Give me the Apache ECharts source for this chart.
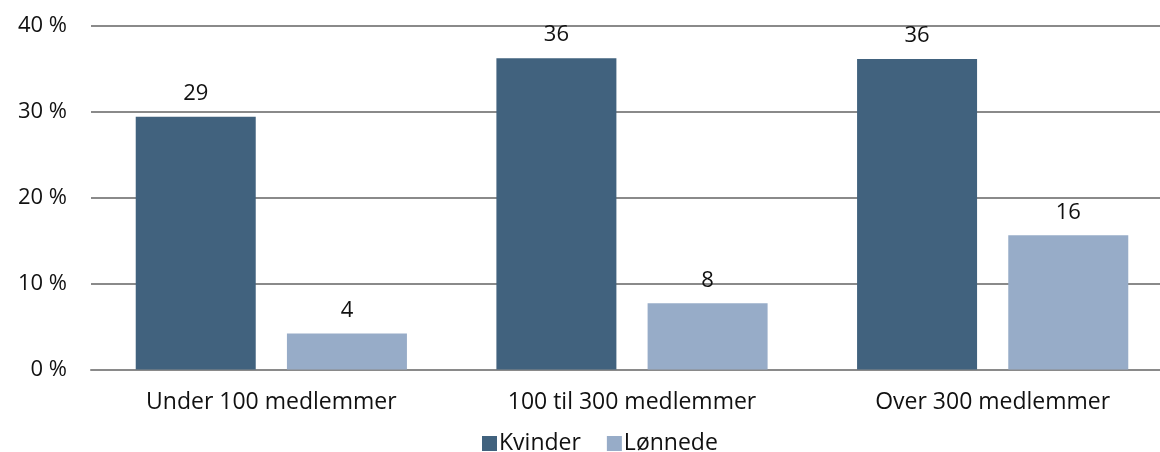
<!DOCTYPE html>
<html><head><meta charset="utf-8">
<script src="https://cdn.jsdelivr.net/npm/echarts@6/dist/echarts.min.js"></script>
<style>html,body{margin:0;padding:0;background:#fff}#c{width:1160px;height:452px}</style>
</head><body><div id="c"></div>
<script>
const categories = ["Under 100 medlemmer", "100 til 300 medlemmer", "Over 300 medlemmer"];
const kvinder = [29.4, 36.2, 36.1];
const lonnede = [4.2, 7.7, 15.6];
const yTicks = [0, 10, 20, 30, 40];
const seriesNames = ["Kvinder", "Lønnede"];

const font = "'Open Sans', Lato, sans-serif";
const chart = echarts.init(document.getElementById('c'));
chart.setOption({
  animation: false,
  grid: {left: 91, right: -13, top: 25.5, bottom: 82.5, outerBoundsMode: 'none', containLabel: false},
  legend: {
    bottom: -8, left: 477, itemWidth: 15, itemHeight: 15, itemGap: 26,
    icon: 'rect',
    textStyle: {fontFamily: font, fontSize: 23, color: '#111', padding: [0,0,0,-3]},
    data: seriesNames
  },
  xAxis: {
    type: 'category', data: categories,
    axisLine: {lineStyle: {color: '#8a8a8a', width: 2}},
    axisTick: {show: false},
    axisLabel: {fontFamily: font, fontSize: 23, color: '#111', margin: 21}
  },
  yAxis: {
    type: 'value', min: yTicks[0], max: yTicks[yTicks.length-1], interval: 10,
    splitLine: {lineStyle: {color: '#8a8a8a', width: 2}},
    axisLine: {show: false}, axisTick: {show: false},
    axisLabel: {fontFamily: font, fontSize: 22, color: '#111', margin: 24, formatter: v => v + ' %'}
  },
  series: [
    {name: seriesNames[0], type: 'bar', data: kvinder, barWidth: 120, barGap: '26%',
     itemStyle: {color: '#41627e'},
     label: {show: true, position: 'top', distance: 12, fontFamily: font, fontSize: 22, color: '#111',
       formatter: p => Math.round(p.value)}},
    {name: seriesNames[1], type: 'bar', data: lonnede, barWidth: 120,
     itemStyle: {color: '#97acc8'},
     label: {show: true, position: 'top', distance: 12, fontFamily: font, fontSize: 22, color: '#111',
       formatter: p => Math.round(p.value)}}
  ]
});
</script></body></html>
